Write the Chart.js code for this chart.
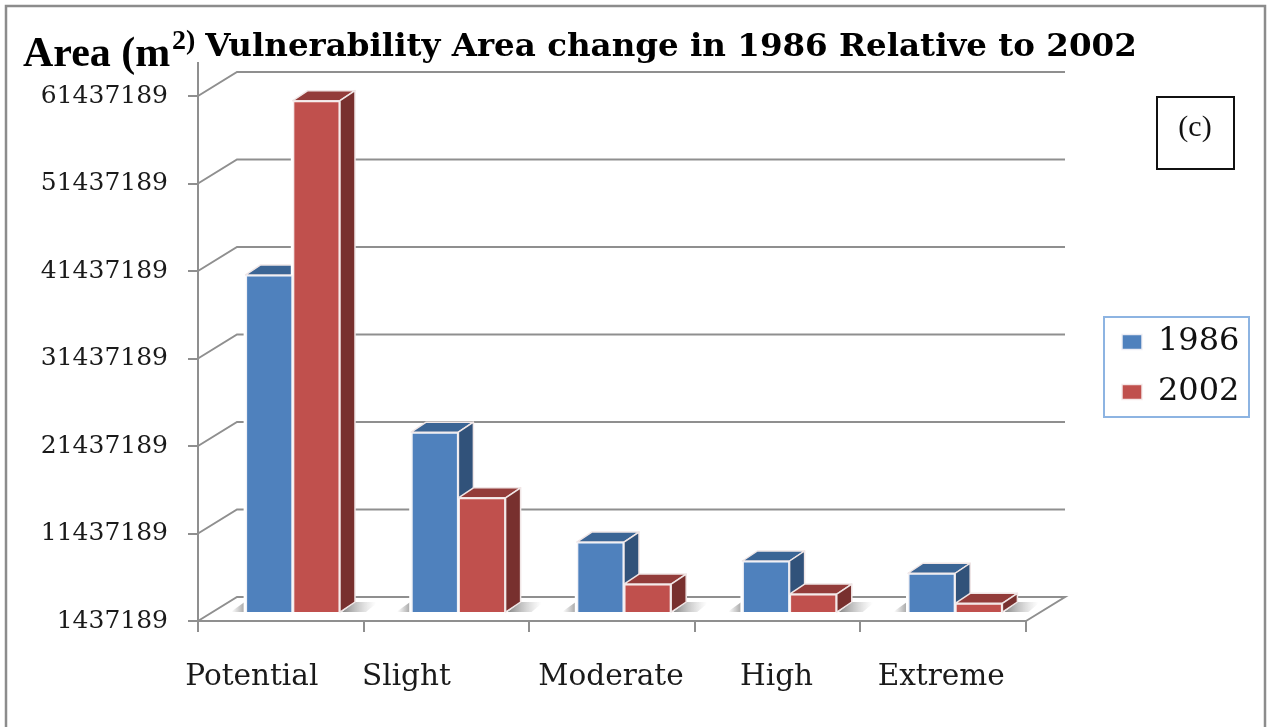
<!DOCTYPE html>
<html><head><meta charset="utf-8">
<style>html,body{margin:0;padding:0;background:#fff;overflow:hidden}canvas{display:block}</style>
<script src="https://cdn.jsdelivr.net/npm/chart.js@4"></script>
</head><body><canvas id="c" width="1267" height="727"></canvas>
<script>
const categories = ["Potential", "Slight", "Moderate", "High", "Extreme"];
const values1986 = [40070000, 22100000, 9550000, 7380000, 5980000];
const values2002 = [59990000, 14600000, 4750000, 3600000, 2550000];
const tickValues = [1437189, 11437189, 21437189, 31437189, 41437189, 51437189, 61437189];
const seriesNames = ["1986", "2002"];
const titleText = "Vulnerability Area change in 1986 Relative to 2002";
const axisText = "Area (m";
const axisSup = "2)";
const panelText = "(c)";
const labelShift = [-29, -40, -1, -1, -2];

const GRAY = "#8f8f8f", DX = 39, DY = -24, BX = 12, BY = -8, FX = 15, FY = -10;
const faces = [{top:"#3b6595", side:"#31527a"}, {top:"#933c3a", side:"#78302e"}];

function poly(ctx, pts, fill, stroke) {
  ctx.beginPath();
  pts.forEach((p, i) => i ? ctx.lineTo(p[0], p[1]) : ctx.moveTo(p[0], p[1]));
  ctx.closePath();
  if (fill) { ctx.fillStyle = fill; ctx.fill(); }
  if (stroke) { ctx.strokeStyle = stroke; ctx.lineWidth = 1.5; ctx.lineJoin = "round"; ctx.stroke(); }
}

const depth3d = {
  id: "depth3d",
  afterLayout(chart) {
    const lg = chart.legend, w = lg.width, h = lg.height;
    lg.left = 1104; lg.right = 1104 + w; lg.top = 308; lg.bottom = 308 + h;
    const t = chart.titleBlock;
    const th = t.height;
    t.left = 100; t.right = 1242; t.top = 47.5 - th / 2; t.bottom = t.top + th;
  },
  beforeDraw(chart) {
    const items = chart.scales.x.getLabelItems();
    if (!items._moved) {
      items.forEach((it, i) => { it.options.translation[0] += labelShift[i]; });
      items._moved = true;
    }
    const ctx = chart.ctx;
    ctx.save();
    ctx.strokeStyle = "#8c8c8c"; ctx.lineWidth = 2.5;
    ctx.beginPath(); ctx.moveTo(6, 727); ctx.lineTo(6, 6); ctx.lineTo(1265, 6); ctx.lineTo(1265, 727); ctx.stroke();
    ctx.restore();
  },
  beforeDatasetsDraw(chart) {
    const ctx = chart.ctx, y = chart.scales.y, a = chart.chartArea;
    ctx.save();
    ctx.strokeStyle = GRAY; ctx.lineWidth = 2;
    tickValues.forEach(v => {
      const p = y.getPixelForValue(v);
      ctx.beginPath(); ctx.moveTo(a.left, p); ctx.lineTo(a.left + DX, p + DY); ctx.lineTo(a.right + DX, p + DY);
      if (v === tickValues[0]) ctx.lineTo(a.right, p);
      ctx.stroke();
    });
    ctx.beginPath(); ctx.moveTo(a.left, a.top); ctx.lineTo(a.left, a.top - 34); ctx.stroke();
    ctx.translate(BX, BY);
    const m0 = chart.getDatasetMeta(0).data, m1 = chart.getDatasetMeta(1).data;
    m0.forEach((b, i) => {
      const l = b.x - b.width / 2, r = m1[i].x + m1[i].width / 2, yb = b.base;
      let g = ctx.createLinearGradient(l - 14, 0, l - 1, 0);
      g.addColorStop(0, "rgba(150,150,150,0)"); g.addColorStop(1, "rgba(150,150,150,.85)");
      poly(ctx, [[l - 1, yb - 10], [l - 1, yb], [l - 15, yb]], g);
      g = ctx.createLinearGradient(r, 0, r + 36, 0);
      g.addColorStop(0, "rgba(110,110,110,.9)"); g.addColorStop(1, "rgba(170,170,170,0)");
      poly(ctx, [[r + 2, yb], [r + FX, yb + FY], [r + 38, yb + FY], [r + 26, yb]], g);
    });
    [m0, m1].forEach((bars, d) => bars.forEach(b => {
      const l = b.x - b.width / 2, r = b.x + b.width / 2, t = b.y, bt = b.base;
      ctx.fillStyle = "#fff";
      ctx.fillRect(l - 2, t - 1, r - l + 4, bt - t + 3);
      poly(ctx, [[l, t], [l + FX, t + FY], [r + FX, t + FY], [r, t]], faces[d].top, "#f0e6e6");
      poly(ctx, [[r, t], [r + FX, t + FY], [r + FX, bt + FY], [r, bt]], faces[d].side, "#f0e6e6");
    }));
    ctx.restore();
  },
  beforeDatasetDraw(chart) { chart.ctx.save(); chart.ctx.translate(BX, BY); },
  afterDatasetDraw(chart) { chart.ctx.restore(); },
  afterDraw(chart) {
    const ctx = chart.ctx;
    ctx.save();
    ctx.fillStyle = "#000"; ctx.textBaseline = "alphabetic"; ctx.textAlign = "left";
    ctx.font = "bold 42px 'Liberation Serif'";
    ctx.fillText(axisText, 23, 66);
    ctx.font = "bold 28px 'Liberation Serif'";
    ctx.fillText(axisSup, 172, 49);
    ctx.strokeStyle = "#8db4e2"; ctx.lineWidth = 2;
    ctx.strokeRect(1104, 317, 145, 100);
    ctx.strokeStyle = "#111"; ctx.lineWidth = 2;
    ctx.strokeRect(1157, 97, 77, 72);
    ctx.fillStyle = "#111"; ctx.textAlign = "center"; ctx.textBaseline = "middle";
    ctx.font = "30px 'Liberation Serif'";
    ctx.fillText(panelText, 1195, 128);
    ctx.restore();
  }
};

new Chart(document.getElementById("c"), {
  type: "bar",
  data: {
    labels: categories,
    datasets: [
      {label: seriesNames[0], data: values1986, base: tickValues[0], backgroundColor: "#4f81bd", borderColor: "rgba(240,240,245,.95)", borderWidth: 1.5, clip: false},
      {label: seriesNames[1], data: values2002, base: tickValues[0], backgroundColor: "#c0504d", borderColor: "rgba(245,235,235,.95)", borderWidth: 1.5, clip: false}
    ]
  },
  plugins: [depth3d],
  options: {
    responsive: false,
    animation: false,
    events: [],
    layout: {padding: {top: 57, left: 0, right: 241, bottom: 16}},
    datasets: {bar: {categoryPercentage: 0.57, barPercentage: 1}},
    scales: {
      x: {
        afterFit(s) { s.height = 90; },
        border: {color: GRAY, width: 2},
        grid: {color: GRAY, lineWidth: 2, drawOnChartArea: false, drawTicks: true, tickLength: 11},
        ticks: {color: "#1a1a1a", font: {family: "'DejaVu Serif'", size: 29.5}, padding: 28, maxRotation: 0, autoSkip: false}
      },
      y: {
        min: tickValues[0],
        max: tickValues[tickValues.length - 1],
        afterFit(s) { s.width = 198; },
        afterBuildTicks(s) { s.ticks = tickValues.map(v => ({value: v})); },
        border: {color: GRAY, width: 2},
        grid: {color: GRAY, lineWidth: 2, drawOnChartArea: false, drawTicks: true, tickLength: 10},
        ticks: {color: "#1a1a1a", font: {family: "'DejaVu Serif'", size: 25}, padding: 20, callback: v => String(v)}
      }
    },
    plugins: {
      tooltip: {enabled: false},
      title: {display: true, text: titleText, color: "#000", padding: 0, font: {family: "'DejaVu Serif'", weight: "bold", size: 32.5}},
      legend: {
        position: "chartArea",
        align: "start",
        labels: {color: "#111", boxWidth: 20, boxHeight: 15, padding: 18, font: {family: "'DejaVu Serif'", size: 32}}
      }
    }
  }
});
</script></body></html>
